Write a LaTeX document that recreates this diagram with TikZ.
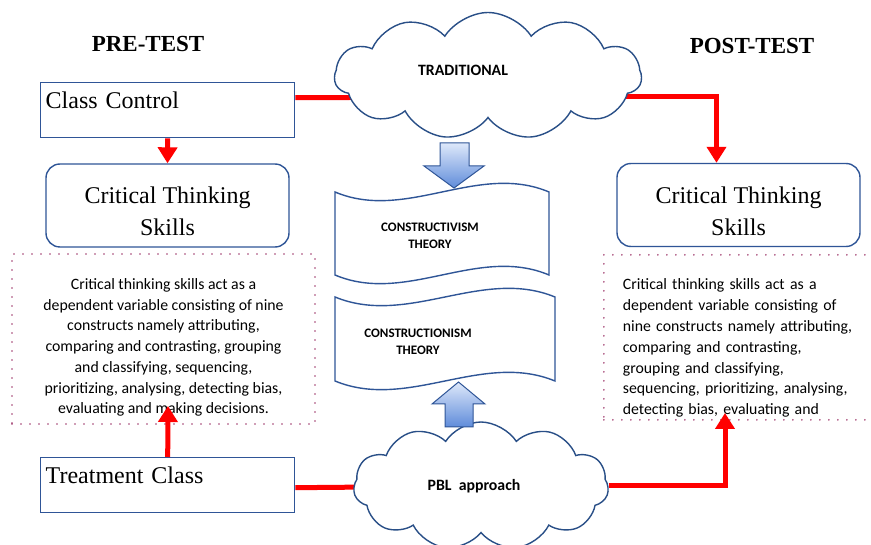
\documentclass[tikz,border=0pt]{standalone}
\usepackage{fontspec}
\setmainfont{Liberation Serif}
\newfontfamily\calibri{Carlito}
\usetikzlibrary{shapes.symbols,arrows.meta}
\pgfdeclarelayer{background}
\pgfsetlayers{background,main}

\begin{document}
\begin{tikzpicture}[x=1pt,y=-1pt,
  classbox/.style={draw=boxColor,line width=1.4pt,fill=white,anchor=north west,align=left,
    inner xsep=5pt,inner ysep=8pt,text width=244pt,text height=18pt,text depth=21pt,
    font=\fontsize{24}{28}\selectfont},
  skillbox/.style={draw=boxColor,line width=1.4pt,fill=white,rounded corners=14pt,align=center,
    minimum width=243pt,minimum height=83pt,inner sep=0pt,text height=66pt,text depth=5pt,
    font=\fontsize{24}{32}\selectfont},
  notebox/.style={draw=dotColor,line width=1.8pt,dash pattern=on 0pt off 9pt,line cap=round,
    minimum height=170pt,inner sep=0pt,font=\calibri\fontsize{15.8}{20.8}\selectfont},
  cloudnode/.style={cloud,cloud puffs=11,cloud puff arc=115,draw=cloudColor,line width=1.4pt,
    fill=white,inner sep=0pt},
  cloudtext/.style={inner sep=0pt,font=\calibri\bfseries\fontsize{15.8}{18}\selectfont},
  wavebox/.style={draw=boxColor,line width=1.4pt,fill=white},
  wavetext/.style={align=center,inner sep=0pt,font=\calibri\bfseries\fontsize{13}{16.5}\selectfont},
  bluearrow/.style={draw=boxColor,line width=1pt,line join=miter,top color=arrowTop,bottom color=arrowBottom},
  redline/.style={draw=red,line width=5pt},
  redarrow/.style={redline,-{Triangle[width=19pt,length=16pt]}},
  heading/.style={inner sep=0pt,font=\bfseries\fontsize{23}{26}\selectfont}]
\definecolor{boxColor}{RGB}{47,85,151}
\definecolor{cloudColor}{RGB}{41,79,135}
\definecolor{dotColor}{RGB}{160,60,110}
\definecolor{arrowTop}{RGB}{222,232,250}
\definecolor{arrowBottom}{RGB}{95,140,218}
\useasboundingbox (0,0) rectangle (871,545);
\begin{pgfonlayer}{background}
\fill[white] (0,0) rectangle (871,545);
\end{pgfonlayer}

% column headings
\node[heading] (pre) at (148,44) {PRE-TEST};
\node[heading] (post) at (752,46) {POST-TEST};

% the two classes
\node[classbox] (cc) at (40,82) {Class Control};
\node[classbox] (tc) at (40,457) {Treatment Class};

% critical thinking skills, before and after
\node[skillbox] (lcts) at (167.5,205.5) {Critical Thinking\\Skills};
\node[skillbox] (rcts) at (738.5,205) {Critical Thinking\\Skills};

\node[notebox,align=center,minimum width=303pt,text height=155pt,text depth=5pt]
  (ltext) at (163.5,339) {Critical thinking skills act as a\\
dependent variable consisting of nine\\
constructs namely attributing,\\
comparing and contrasting, grouping\\
and classifying, sequencing,\\
prioritizing, analysing, detecting bias,\\
evaluating and making decisions.};
\node[notebox,anchor=north west,align=left,text width=262pt,inner xsep=19pt,minimum height=165pt,
  text height=11pt,text depth=106pt] (rtext) at (603,254) {Critical thinking skills act as a\\
dependent variable consisting of\\
nine constructs namely attributing,\\
comparing and contrasting,\\
grouping and classifying,\\
sequencing, prioritizing, analysing,\\
detecting bias, evaluating and};

% approaches
\node[cloudnode,minimum width=307pt,minimum height=127pt] (trad) at (488,76) {};
\node[cloudtext] (tradlabel) at (463,70) {TRADITIONAL};
\node[cloudnode,minimum width=255pt,minimum height=128pt] (pbl) at (481,486) {};
\node[cloudtext] (pbllabel) at (474,486) {PBL\ \ approach};

% theories
\path[wavebox] (335,192) .. controls (406,222) and (478,162) .. (549,192) -- (549,275)
  .. controls (478,245) and (406,305) .. (335,275) -- cycle;
\path[wavebox] (335,297) .. controls (408,327) and (482,267) .. (555,297) -- (555,381)
  .. controls (482,351) and (408,411) .. (335,381) -- cycle;
\node[wavetext] (cvism) at (430,236) {CONSTRUCTIVISM\\THEORY};
\node[wavetext] (cnism) at (418,342) {CONSTRUCTIONISM\\THEORY};

\path[bluearrow] (440,143) -- (469,143) -- (469,166) -- (484,166) -- (454,188) -- (424,166) -- (440,166) -- cycle;
\path[bluearrow] (445,427) -- (473,427) -- (473,404) -- (485,404) -- (458.5,382) -- (432,404) -- (445,404) -- cycle;

% red connectors
\coordinate (ltip) at (168,406);
\coordinate (rtip) at (725,413);
\begin{pgfonlayer}{background}
\draw[redline] ([yshift=12.5pt]cc.east) -- ([yshift=-21pt]trad.center);
\draw[redarrow] ([yshift=-21pt]trad.center) -| ([xshift=-22pt]rcts.north);
\draw[redline] ([yshift=-2.5pt]tc.east) -- (pbl.center);
\end{pgfonlayer}
\draw[redarrow] (cc.south) -- (lcts.north);
\draw[redarrow] (tc.north) -- (ltip);
\draw[redarrow] (pbl.east) -| (rtip);
\end{tikzpicture}
\end{document}
